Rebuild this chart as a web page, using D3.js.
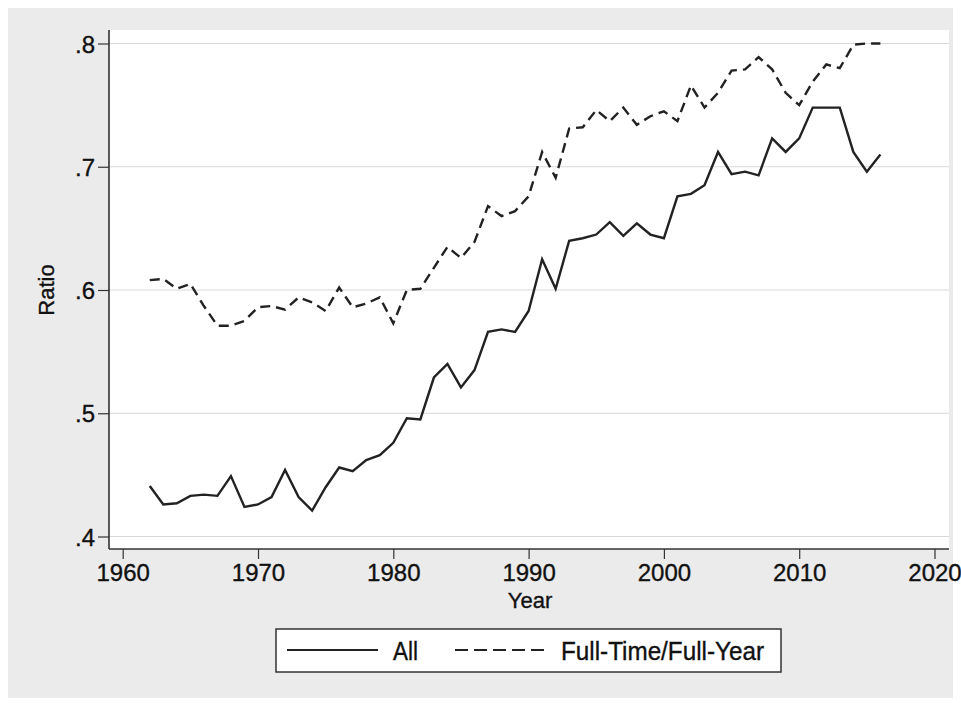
<!DOCTYPE html>
<html><head><meta charset="utf-8">
<script src="https://cdn.jsdelivr.net/npm/d3@7"></script>
<style>
html,body{margin:0;padding:0;background:#fff;}
svg{display:block;}
text{font-family:"Liberation Sans",Arial,sans-serif;fill:#111;stroke:#111;stroke-width:0.35px;}
</style></head>
<body>
<svg id="chart" width="961" height="703"></svg>
<script>
const years = d3.range(1962, 2017);
const allRatio = [
  .441,.426,.427,.433,.434,.433,.449,.424,.426,.432,
  .454,.432,.421,.440,.456,.453,.462,.466,.476,.496,
  .495,.529,.540,.521,.535,.566,.568,.566,.583,.625,
  .601,.640,.642,.645,.655,.644,.654,.645,.642,.676,
  .678,.685,.712,.694,.696,.693,.723,.712,.723,.748,
  .748,.748,.712,.696,.710];
const ftfyRatio = [
  .608,.609,.601,.605,.587,.571,.571,.575,.586,.587,
  .584,.594,.590,.583,.602,.586,.589,.594,.573,.600,
  .601,.618,.635,.626,.639,.668,.660,.664,.676,.712,
  .691,.731,.732,.746,.737,.748,.734,.741,.745,.737,
  .766,.748,.760,.778,.779,.789,.779,.760,.750,.769,
  .783,.780,.799,.800,.800];
const xTicks = [1960,1970,1980,1990,2000,2010,2020];
const yTicks = [.4,.5,.6,.7,.8];
const seriesNames = ["All","Full-Time/Full-Year"];

const svg = d3.select("#chart");
svg.append("rect").attr("x",8).attr("y",8).attr("width",945).attr("height",690).attr("fill","#ebebeb");

const L = 109, R = 949, T = 30, B = 549;
svg.append("rect").attr("x",L).attr("y",T).attr("width",R-L).attr("height",B-T).attr("fill","#ffffff");

const x = d3.scaleLinear().domain([1960,2020]).range([122.7,934.5]);
const y = d3.scaleLinear().domain([.4,.8]).range([536.5,43.5]);

svg.append("g").selectAll("line").data(yTicks).join("line")
  .attr("x1",L).attr("x2",R).attr("y1",d=>y(d)).attr("y2",d=>y(d))
  .attr("stroke","#d9d9d9").attr("stroke-width",1.2);

const fmt = d => d3.format(".1f")(d).replace(/^0/,"");
const yAxis = svg.append("g").attr("transform",`translate(${L},0)`)
  .call(d3.axisLeft(y).tickValues(yTicks).tickFormat(fmt).tickSize(11).tickPadding(3));
const xAxis = svg.append("g").attr("transform",`translate(0,${B})`)
  .call(d3.axisBottom(x).tickValues(xTicks).tickFormat(d3.format("d")).tickSize(10).tickPadding(5));
[yAxis,xAxis].forEach(g=>{
  g.attr("font-size",null).attr("font-family",null);
  g.select(".domain").remove();
  g.selectAll("line").attr("stroke","#333").attr("stroke-width",1.2);
  g.selectAll("text").style("font-size","24px").attr("fill","#111")
   .style("font-family","'Liberation Sans',Arial,sans-serif");
});
yAxis.selectAll("text").attr("dy","0.36em");
svg.append("line").attr("x1",L).attr("x2",L).attr("y1",T).attr("y2",B).attr("stroke","#333").attr("stroke-width",1.6);
svg.append("line").attr("x1",L).attr("x2",R).attr("y1",B).attr("y2",B).attr("stroke","#333").attr("stroke-width",1.6);

svg.append("text").attr("x",530).attr("y",608).attr("text-anchor","middle").style("font-size","22px").text("Year");
svg.append("text").attr("transform",`translate(54,290) rotate(-90)`).attr("text-anchor","middle").style("font-size","22px").text("Ratio");

const line = d3.line().x((d,i)=>x(years[i])).y(d=>y(d));
svg.append("path").datum(ftfyRatio).attr("d",line).attr("fill","none")
  .attr("stroke","#222").attr("stroke-width",2.4).attr("stroke-dasharray","10,6");
svg.append("path").datum(allRatio).attr("d",line).attr("fill","none")
  .attr("stroke","#222").attr("stroke-width",2.4);

const lg = svg.append("g");
lg.append("rect").attr("x",276).attr("y",629).attr("width",505).attr("height",43)
  .attr("fill","#fff").attr("stroke","#333").attr("stroke-width",1.5);
lg.append("line").attr("x1",287).attr("x2",378).attr("y1",650).attr("y2",650).attr("stroke","#222").attr("stroke-width",2);
lg.append("text").attr("x",393).attr("y",660).style("font-size","25px")
  .attr("textLength",25).attr("lengthAdjust","spacingAndGlyphs").text(seriesNames[0]);
lg.append("line").attr("x1",455).attr("x2",545).attr("y1",650).attr("y2",650).attr("stroke","#222").attr("stroke-width",2).attr("stroke-dasharray","13,6");
lg.append("text").attr("x",561).attr("y",660).style("font-size","25px")
  .attr("textLength",203).attr("lengthAdjust","spacingAndGlyphs").text(seriesNames[1]);
</script>
</body></html>
